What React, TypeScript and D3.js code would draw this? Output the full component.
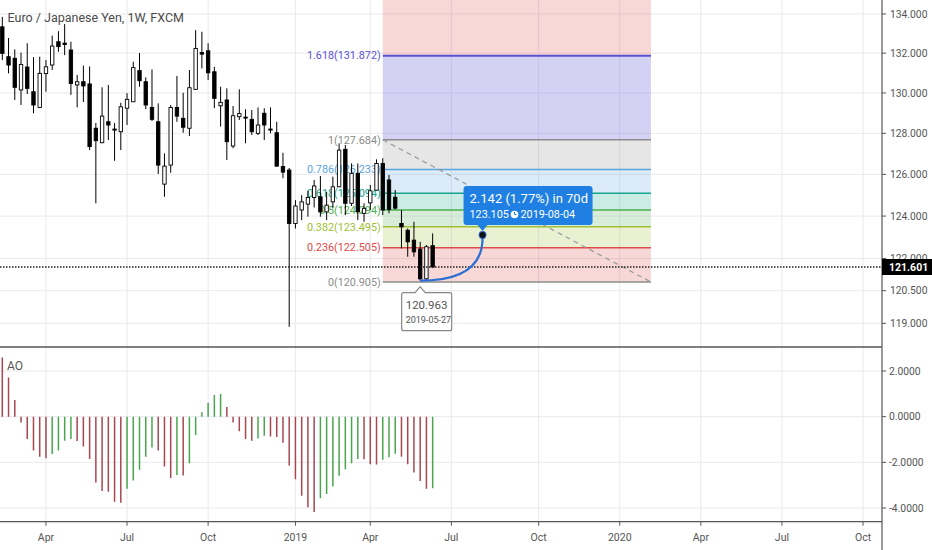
import * as d3 from "d3";

// --- data ---

const firstBar = "2018-02-12"; // weekly bars (Monday open)

const opens = [
  133.34, 131.82, 131.74, 130.15, 131.3, 130.06, 129.28, 130.97, 131.4, 132.58,
  132.51, 132.16, 130.4, 130.56, 130.45, 128.25, 127.54, 128.57, 128.21, 128.08,
  129.24, 129.56, 131.12, 130.56, 129.28, 128.57, 125.53, 126.45, 129.28, 128.74,
  128.25, 130.18, 132.03, 132.12, 131.06, 129.36, 129.65, 127.38, 128.82, 128.8,
  128.69, 128.0, 128.99, 128.21, 128.03, 126.38, 126.21, 123.65, 124.29, 124.57,
  124.89, 124.92, 124.2, 124.68, 125.4, 127.22, 124.61, 126.05, 124.13, 124.63,
  125.24, 126.53, 125.73, 124.9, 123.65, 123.33, 122.86, 122.44, 121.05, 122.6,
];
const highs = [
  133.85, 132.77, 132.19, 132.03, 132.5, 131.8, 131.82, 131.65, 132.89, 133.12,
  133.48, 132.58, 130.9, 131.37, 131.33, 128.51, 130.28, 130.4, 128.51, 129.51,
  129.99, 131.57, 132.01, 130.78, 131.18, 129.48, 127.02, 129.4, 130.85, 130.01,
  131.15, 133.17, 133.09, 132.5, 131.31, 130.31, 130.23, 129.35, 130.18, 129.19,
  129.15, 129.28, 129.24, 129.28, 128.57, 127.05, 126.31, 124.76, 125.0, 125.21,
  125.73, 125.92, 125.16, 125.89, 127.51, 127.43, 126.53, 126.53, 124.61, 125.49,
  126.73, 126.78, 125.97, 125.25, 124.29, 123.41, 123.73, 122.78, 122.63, 123.18,
];
const lows = [
  131.65, 130.98, 129.65, 129.4, 129.95, 128.99, 129.25, 130.06, 131.15, 132.07,
  131.9, 129.9, 129.28, 129.55, 127.18, 124.61, 127.52, 127.67, 126.66, 127.18,
  128.41, 129.55, 130.31, 129.19, 128.61, 126.02, 124.92, 126.08, 128.57, 128.03,
  127.87, 130.15, 131.23, 130.65, 129.24, 128.33, 126.7, 127.27, 128.66, 127.51,
  127.92, 127.92, 127.67, 128.0, 126.37, 125.81, 118.84, 123.41, 123.81, 123.97,
  124.41, 123.97, 123.81, 124.37, 125.39, 124.05, 124.48, 123.81, 123.73, 124.29,
  125.22, 124.05, 124.13, 124.31, 122.47, 122.08, 122.08, 120.963, 120.98, 121.55,
];
const closes = [
  131.99, 131.4, 130.28, 131.43, 130.23, 129.4, 130.98, 131.31, 132.36, 132.33,
  132.44, 130.47, 130.56, 130.35, 127.35, 127.64, 128.85, 128.41, 128.18, 129.31,
  129.68, 131.27, 130.61, 129.4, 128.69, 126.45, 126.4, 129.28, 128.85, 128.3,
  130.26, 132.24, 131.95, 131.01, 129.73, 129.53, 127.59, 128.87, 128.97, 128.77,
  128.08, 128.41, 128.41, 128.18, 126.4, 126.11, 123.65, 124.48, 124.68, 124.89,
  125.44, 124.2, 124.52, 125.4, 127.18, 124.61, 126.05, 124.2, 124.37, 125.21,
  126.53, 124.29, 124.32, 124.38, 123.49, 122.78, 122.31, 121.05, 122.55, 121.601,
];

const aoValues = [
  2.59, 1.72, 0.73, -0.26, -0.98, -1.48, -1.76, -1.82, -1.63, -1.48,
  -1.05, -0.98, -1.06, -1.31, -1.85, -2.88, -3.25, -3.29, -3.73, -3.77,
  -3.16, -2.79, -2.33, -1.76, -1.35, -1.48, -2.18, -2.69, -2.56, -2.58,
  -2.04, -0.8, 0.19, 0.61, 0.95, 0.99, 0.42, -0.26, -0.64, -0.98,
  -1.05, -0.96, -0.84, -0.87, -0.89, -1.14, -2.14, -2.74, -3.46, -3.97,
  -4.18, -3.57, -3.39, -3.06, -2.59, -2.3, -2.04, -1.85, -1.86, -2.08,
  -2.09, -1.89, -1.78, -1.62, -1.75, -2.08, -2.45, -2.82, -3.16, -3.14,
];

const priceTicks = [119, 120.5, 122, 124, 126, 128, 130, 132, 134];
const aoTicks = [2, 0, -2, -4];

const fibLevels = [0, 0.236, 0.382, 0.5, 0.618, 0.786, 1, 1.618, 2.618];
const fibPrices = [
  120.905, 122.505, 123.495, 124.294, 125.094, 126.233, 127.684, 131.872, 138.651,
];
const fibColors = [
  "#8c8c8c", "#e04a4a", "#9fbf35", "#4caf50", "#14a58a",
  "#5aa5dc", "#8c8c8c", "#5a52d5", "#e04a4a",
];
const fibStartDate = "2019-04-15";
const fibEndDate = "2020-02-10";

const lastPrice = 121.601;
const lowPoint = { date: "2019-05-27", price: 120.963 };
const target = { date: "2019-08-05", price: 123.105, shownDate: "2019-08-04" };
const rangeText = "2.142 (1.77%) in 70d";

// --- layout ---

const W = 932;
const H = 550;
const PLOT_RIGHT = 882;
const MAIN = { top: 0, bottom: 346 };
const AOP = { top: 347.5, bottom: 521.7 };
const FONT = "Roboto, 'Liberation Sans', sans-serif";
const AXIS_COLOR = "#555";
const GRID = "#e9e9ef";
const BAR_STEP = 6.237;
const X0 = 2.3;

const parse = d3.utcParse("%Y-%m-%d");

export default function App() {
  const start = parse(firstBar) as Date;
  const barDates = d3.utcMonday.range(start, d3.utcMonday.offset(start, closes.length));
  const last = barDates.length - 1;

  const x = d3
    .scaleUtc()
    .domain([barDates[0], barDates[last]])
    .range([X0, X0 + last * BAR_STEP]);

  const y = d3.scaleLog().domain([117.97, 134.72]).range([MAIN.bottom, MAIN.top]);
  const ya = d3.scaleLinear().domain([-4.6, 3.03]).range([AOP.bottom, AOP.top]);

  // x ticks: first weekly bar of each quarter
  const quarterStarts = d3.utcMonth
    .every(3)!
    .range(new Date(Date.UTC(2018, 3, 1)), new Date(Date.UTC(2020, 10, 1)));
  const xTicks = quarterStarts.map((m) => ({
    x: x(d3.utcMonday.ceil(m)),
    label: m.getUTCMonth() === 0 ? d3.utcFormat("%Y")(m) : d3.utcFormat("%b")(m),
  }));

  const fx0 = x(parse(fibStartDate) as Date);
  const fx1 = x(parse(fibEndDate) as Date);

  const lowX = x(parse(lowPoint.date) as Date);
  const lowY = y(lowPoint.price);
  const tX = x(parse(target.date) as Date);
  const tY = y(target.price);

  const curve = d3.path();
  curve.moveTo(lowX, lowY);
  curve.quadraticCurveTo(tX, lowY, tX, tY + 3);

  const lastY = y(lastPrice);

  // tooltip box (blue)
  const bx = tX - 19;
  const by = tY - 49;
  const bw = 129;
  const bh = 39;

  // low marker box
  const lbx = lowX - 18.5;
  const lby = lowY + 12;

  return (
    <svg
      width={W}
      height={H}
      style={{ position: "absolute", left: 0, top: 0, background: "#fff" }}
      fontFamily={FONT}
    >
      <defs>
        <clipPath id="mainClip">
          <rect x={0} y={MAIN.top} width={PLOT_RIGHT} height={MAIN.bottom - MAIN.top} />
        </clipPath>
        <clipPath id="aoClip">
          <rect x={0} y={AOP.top} width={PLOT_RIGHT} height={AOP.bottom - AOP.top} />
        </clipPath>
      </defs>
      <rect width={W} height={H} fill="#fff" />

      {/* grid */}
      {xTicks.map((t, i) => (
        <line key={"vg" + i} x1={t.x} x2={t.x} y1={0} y2={AOP.bottom} stroke={GRID} />
      ))}
      {priceTicks.map((p) => (
        <line key={"hg" + p} x1={0} x2={PLOT_RIGHT} y1={y(p)} y2={y(p)} stroke={GRID} />
      ))}
      {aoTicks.map((v) => (
        <line key={"ag" + v} x1={0} x2={PLOT_RIGHT} y1={ya(v)} y2={ya(v)} stroke={GRID} />
      ))}

      {/* fibonacci retracement */}
      <g clipPath="url(#mainClip)">
        {fibLevels.slice(1).map((lv, i) => {
          const yTop = y(fibPrices[i + 1]);
          const yBot = y(fibPrices[i]);
          return (
            <rect
              key={"ff" + lv}
              x={fx0}
              y={yTop}
              width={fx1 - fx0}
              height={yBot - yTop}
              fill={fibColors[i + 1]}
              fillOpacity={lv === 1.618 ? 0.26 : 0.22}
            />
          );
        })}
        {fibLevels.map((lv, i) => (
          <line
            key={"fl" + lv}
            x1={fx0}
            x2={fx1}
            y1={y(fibPrices[i])}
            y2={y(fibPrices[i])}
            stroke={fibColors[i]}
            strokeWidth={lv === 1.618 ? 2 : 1.5}
          />
        ))}
        {fibLevels.map((lv, i) =>
          y(fibPrices[i]) > 5 ? (
            <text
              key={"ft" + lv}
              x={fx0 - 2}
              y={y(fibPrices[i])}
              dy="0.35em"
              textAnchor="end"
              fontSize={10.8}
              fill={fibColors[i]}
            >
              {`${lv}(${fibPrices[i].toFixed(3)})`}
            </text>
          ) : null,
        )}
        <line
          x1={fx0}
          y1={y(fibPrices[6])}
          x2={fx1}
          y2={y(fibPrices[0])}
          stroke="#999"
          strokeWidth={1.2}
          strokeDasharray="5 4"
        />
      </g>

      {/* candles */}
      <g clipPath="url(#mainClip)">
        {barDates.map((d, i) => {
          const cx = x(d);
          const o = opens[i];
          const c = closes[i];
          const top = y(Math.max(o, c));
          const bot = y(Math.min(o, c));
          const up = c >= o;
          return (
            <g key={"c" + i}>
              <line x1={cx} x2={cx} y1={y(highs[i])} y2={y(lows[i])} stroke="#000" strokeWidth={1} />
              <rect
                x={cx - 1.7}
                y={top}
                width={3.4}
                height={Math.max(bot - top, 1)}
                fill={up ? "#fff" : "#000"}
                stroke="#000"
                strokeWidth={0.9}
              />
            </g>
          );
        })}
      </g>

      {/* last price line */}
      <line
        x1={0}
        x2={PLOT_RIGHT}
        y1={lastY}
        y2={lastY}
        stroke="#222"
        strokeWidth={1.3}
        strokeDasharray="1.5 1.5"
      />

      {/* AO histogram */}
      <g clipPath="url(#aoClip)">
        {aoValues.map((v, i) => (
          <line
            key={"ao" + i}
            x1={x(barDates[i])}
            x2={x(barDates[i])}
            y1={ya(0)}
            y2={ya(v)}
            stroke={i > 0 && v > aoValues[i - 1] ? "#4aa64e" : "#a8474f"}
            strokeWidth={1.5}
          />
        ))}
      </g>
      <text x={7} y={370} fontSize={12} fill={AXIS_COLOR}>
        AO
      </text>

      {/* title */}
      <text x={7.5} y={21.5} fontSize={12.5} fill="#4a4a4a">
        Euro / Japanese Yen, 1W, FXCM
      </text>

      {/* frame / axes */}
      <line x1={0} x2={PLOT_RIGHT} y1={AOP.top - 0.5} y2={AOP.top - 0.5} stroke={AXIS_COLOR} strokeWidth={1.5} />
      <line x1={0} x2={PLOT_RIGHT} y1={AOP.bottom} y2={AOP.bottom} stroke={AXIS_COLOR} strokeWidth={1.2} />
      <line x1={PLOT_RIGHT} x2={PLOT_RIGHT} y1={0} y2={H} stroke={AXIS_COLOR} strokeWidth={1.2} />

      {xTicks.map((t, i) => (
        <g key={"xt" + i}>
          <line x1={t.x} x2={t.x} y1={AOP.bottom} y2={AOP.bottom + 4} stroke={AXIS_COLOR} />
          <text
            x={t.x}
            y={AOP.bottom + 19}
            textAnchor="middle"
            fontSize={10.5}
            fill={AXIS_COLOR}
          >
            {t.label}
          </text>
        </g>
      ))}

      {priceTicks.map((p) => (
        <g key={"yt" + p}>
          <line x1={PLOT_RIGHT} x2={PLOT_RIGHT + 4} y1={y(p)} y2={y(p)} stroke={AXIS_COLOR} />
          <text x={PLOT_RIGHT + 8} y={y(p)} dy="0.35em" fontSize={10.3} fill={AXIS_COLOR}>
            {p.toFixed(3)}
          </text>
        </g>
      ))}
      {aoTicks.map((v) => (
        <g key={"at" + v}>
          <line x1={PLOT_RIGHT} x2={PLOT_RIGHT + 4} y1={ya(v)} y2={ya(v)} stroke={AXIS_COLOR} />
          <text x={PLOT_RIGHT + 7} y={ya(v)} dy="0.35em" fontSize={10.3} fill={AXIS_COLOR}>
            {v.toFixed(4)}
          </text>
        </g>
      ))}

      {/* last price label */}
      <rect x={PLOT_RIGHT} y={lastY - 8} width={W - PLOT_RIGHT} height={16} fill="#000" />
      <text
        x={PLOT_RIGHT + 7}
        y={lastY}
        dy="0.35em"
        fontSize={10.5}
        fontWeight="bold"
        fill="#fff"
      >
        {lastPrice.toFixed(3)}
      </text>

      {/* low marker */}
      <path
        d={`M${lbx + 2},${lby} H${lowX - 5} L${lowX},${lby - 6} L${lowX + 5},${lby} H${lbx + 48} Q${lbx + 50},${lby} ${lbx + 50},${lby + 2} V${lby + 36} Q${lbx + 50},${lby + 38} ${lbx + 48},${lby + 38} H${lbx + 2} Q${lbx},${lby + 38} ${lbx},${lby + 36} V${lby + 2} Q${lbx},${lby} ${lbx + 2},${lby} Z`}
        fill="#fff"
        stroke="#888"
        strokeWidth={1.2}
      />
      <text x={lbx + 4} y={lby + 16} fontSize={11.5} fill="#555">
        {lowPoint.price.toFixed(3)}
      </text>
      <text x={lbx + 4} y={lby + 30} fontSize={9} fill="#555">
        {lowPoint.date}
      </text>

      {/* price range projection */}
      <path d={curve.toString()} fill="none" stroke="#2b6fd4" strokeWidth={2.2} />
      <circle cx={tX} cy={tY} r={3.6} fill="#111" stroke="#2b6fd4" strokeWidth={1} />
      <path
        d={`M${bx + 3},${by} H${bx + bw - 3} Q${bx + bw},${by} ${bx + bw},${by + 3} V${by + bh - 3} Q${bx + bw},${by + bh} ${bx + bw - 3},${by + bh} H${tX + 5} L${tX},${by + bh + 6} L${tX - 5},${by + bh} H${bx + 3} Q${bx},${by + bh} ${bx},${by + bh - 3} V${by + 3} Q${bx},${by} ${bx + 3},${by} Z`}
        fill="#1f7fe3"
      />
      <text x={bx + 6} y={by + 17} fontSize={13} fill="#fff">
        {rangeText}
      </text>
      <text x={bx + 6} y={by + 32} fontSize={10.8} fill="#fff">
        {target.price.toFixed(3)}
      </text>
      <circle cx={bx + 51} cy={by + 28.5} r={3.8} fill="#fff" />
      <path
        d={`M${bx + 51},${by + 26} V${by + 28.5} H${bx + 53}`}
        stroke="#1f7fe3"
        strokeWidth={1}
        fill="none"
      />
      <text x={bx + 57} y={by + 32} fontSize={10.8} fill="#fff">
        {target.shownDate}
      </text>
    </svg>
  );
}
